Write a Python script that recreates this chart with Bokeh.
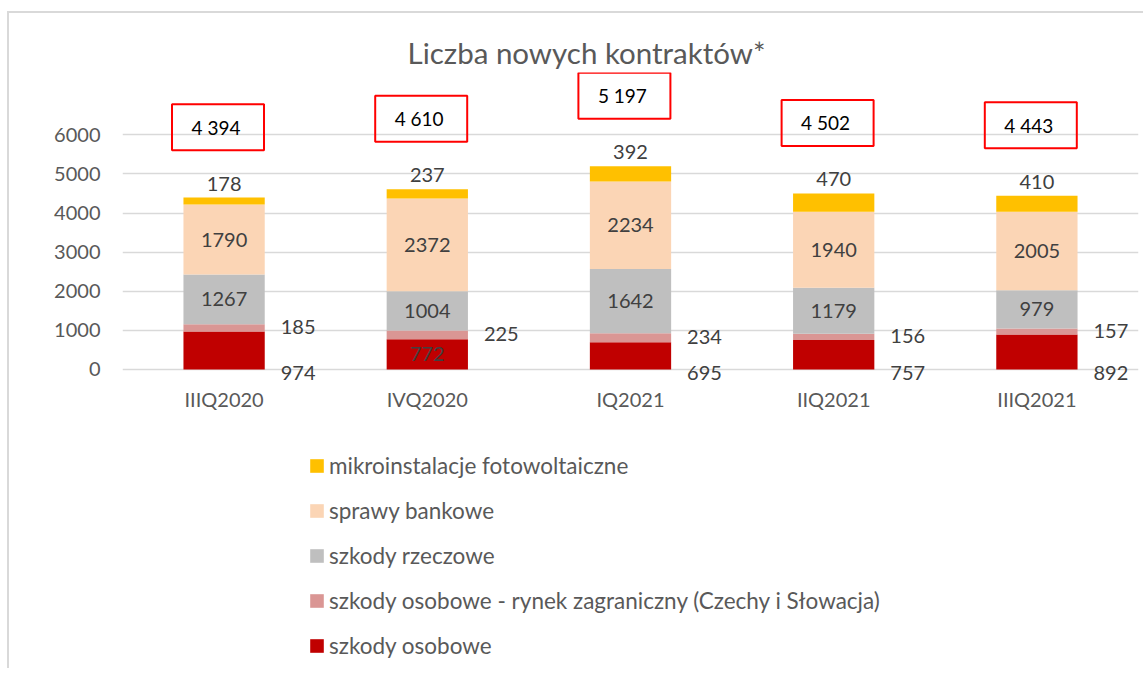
from bokeh.plotting import figure
from bokeh.models import (ColumnDataSource, FactorRange, Range1d, FixedTicker,
                          Legend, LegendItem)
from bokeh.transform import dodge
from bokeh.core.properties import value
from bokeh.embed import file_html
from bokeh.resources import INLINE

# ---------------- data ----------------
categories = ["IIIQ2020", "IVQ2020", "IQ2021", "IIQ2021", "IIIQ2021"]
szkody_osobowe = [974, 772, 695, 757, 892]
szkody_zagraniczne = [185, 225, 234, 156, 157]
szkody_rzeczowe = [1267, 1004, 1642, 1179, 979]
sprawy_bankowe = [1790, 2372, 2234, 1940, 2005]
mikroinstalacje = [178, 237, 392, 470, 410]
series_names = [
    "szkody osobowe",
    "szkody osobowe - rynek zagraniczny (Czechy i Słowacja)",
    "szkody rzeczowe",
    "sprawy bankowe",
    "mikroinstalacje fotowoltaiczne",
]
y_ticks = [0, 1000, 2000, 3000, 4000, 5000, 6000]
title_text = "Liczba nowych kontraktów*"

# ---------------- style ----------------
colors = ["#C00000", "#DA9694", "#BFBFBF", "#FBD5B5", "#FFC000"]
red_label_inside = [False, True, False, False, False]
FONT = value("Lato")
AXIS_COLOR = "#595959"
LABEL_COLOR = "#404040"
BAR_W = 0.4

series = [szkody_osobowe, szkody_zagraniczne, szkody_rzeczowe, sprawy_bankowe, mikroinstalacje]
keys = ["s0", "s1", "s2", "s3", "s4"]

data = {"cat": categories}
for k, s in zip(keys, series):
    data[k] = s
src = ColumnDataSource(data)

bottoms = []
tops = []
acc = [0] * len(categories)
for s in series:
    bottoms.append(list(acc))
    acc = [a + v for a, v in zip(acc, s)]
    tops.append(list(acc))
totals = acc

p = figure(x_range=FactorRange(factors=categories, range_padding=0),
           y_range=Range1d(-7439, 7592),
           width=1136, height=657,
           min_border_left=113, min_border_right=7,
           min_border_top=59, min_border_bottom=10,
           output_backend="svg", toolbar_location=None,
           title=title_text)
p.styles = {"border-left": "2px solid #d9d9d9", "border-top": "2px solid #d9d9d9",
            "margin-top": "11px", "margin-left": "7px"}

p.title.text_font = "Lato"
p.title.text_font_size = "29.5px"
p.title.text_font_style = "normal"
p.title.text_color = AXIS_COLOR
p.title.align = "left"
p.title.offset = 285
p.title.standoff = 6

p.outline_line_color = None
p.background_fill_color = "white"
p.border_fill_color = "white"

ticker = FixedTicker(ticks=y_ticks)
p.yaxis.ticker = ticker
p.ygrid.ticker = ticker
p.ygrid.grid_line_color = "#d9d9d9"
p.ygrid.grid_line_width = 1.5
p.xgrid.grid_line_color = None

for ax in (p.xaxis, p.yaxis):
    ax.axis_line_color = None
    ax.major_tick_line_color = None
    ax.minor_tick_line_color = None
    ax.major_tick_out = 0
    ax.major_tick_in = 0
    ax.major_label_text_font = "Lato"
    ax.major_label_text_font_size = "20px"
    ax.major_label_text_color = AXIS_COLOR
p.yaxis.major_label_standoff = 22
p.xaxis.fixed_location = -1022
p.xaxis.major_label_standoff = -22

renderers = p.vbar_stack(keys, x="cat", width=BAR_W, color=colors, line_color=None, source=src)

# ---------- data labels ----------
half_bar_px = 40.6
side_off = half_bar_px + 16

in_src = ColumnDataSource(dict(
    x=[c for c, f in zip(categories, red_label_inside) if f],
    y=[(b + t) / 2 for b, t, f in zip(bottoms[0], tops[0], red_label_inside) if f],
    t=[str(v) for v, f in zip(szkody_osobowe, red_label_inside) if f]))
out_src = ColumnDataSource(dict(
    x=[c for c, f in zip(categories, red_label_inside) if not f],
    y=[0 for f in red_label_inside if not f],
    t=[str(v) for v, f in zip(szkody_osobowe, red_label_inside) if not f]))
p.text(x="x", y="y", text="t", source=in_src, text_align="center", text_baseline="middle",
       text_font=FONT, text_font_size="20px", text_color=LABEL_COLOR)
p.text(x="x", y="y", text="t", source=out_src, text_align="left", text_baseline="middle",
       x_offset=side_off, y_offset=4,
       text_font=FONT, text_font_size="20px", text_color=LABEL_COLOR)

pink_src = ColumnDataSource(dict(
    x=categories, y=[(b + t) / 2 for b, t in zip(bottoms[1], tops[1])],
    t=[str(v) for v in szkody_zagraniczne]))
p.text(x="x", y="y", text="t", source=pink_src, text_align="left", text_baseline="middle",
       x_offset=side_off, y_offset=-1,
       text_font=FONT, text_font_size="20px", text_color=LABEL_COLOR)

for idx in (2, 3):
    s = ColumnDataSource(dict(
        x=categories, y=[(b + t) / 2 for b, t in zip(bottoms[idx], tops[idx])],
        t=[str(v) for v in series[idx]]))
    p.text(x="x", y="y", text="t", source=s, text_align="center", text_baseline="middle",
           text_font=FONT, text_font_size="20px", text_color=LABEL_COLOR)

top_src = ColumnDataSource(dict(x=categories, y=tops[4], t=[str(v) for v in mikroinstalacje]))
p.text(x="x", y="y", text="t", source=top_src, text_align="center", text_baseline="middle",
       y_offset=-14, text_font=FONT, text_font_size="20px", text_color=LABEL_COLOR)

tot_src = ColumnDataSource(dict(
    x=categories, y=[t + 1800 for t in totals],
    t=[f"{t:,}".replace(",", " ") for t in totals]))
p.rect(x=dodge("x", -0.03, range=p.x_range), y="y", width=92, height=46,
       width_units="screen", height_units="screen", source=tot_src,
       fill_color=None, line_color="#FF0000", line_width=2)
p.text(x=dodge("x", -0.04, range=p.x_range), y="y", text="t", source=tot_src,
       text_align="center", text_baseline="middle",
       text_font=FONT, text_font_size="19px", text_color="black")

# ---------- legend ----------
legend = Legend(items=[LegendItem(label=series_names[i], renderers=[renderers[i]])
                       for i in reversed(range(len(series_names)))],
                location=(186, -8), orientation="vertical",
                label_text_font="Lato", label_text_font_size="22.5px",
                label_text_color=AXIS_COLOR,
                glyph_width=17, glyph_height=17, label_height=45, spacing=0,
                padding=0, margin=0, label_standoff=4,
                border_line_color=None, background_fill_alpha=0)
p.add_layout(legend, "center")

open("out.html", "w").write(file_html(p, INLINE))
